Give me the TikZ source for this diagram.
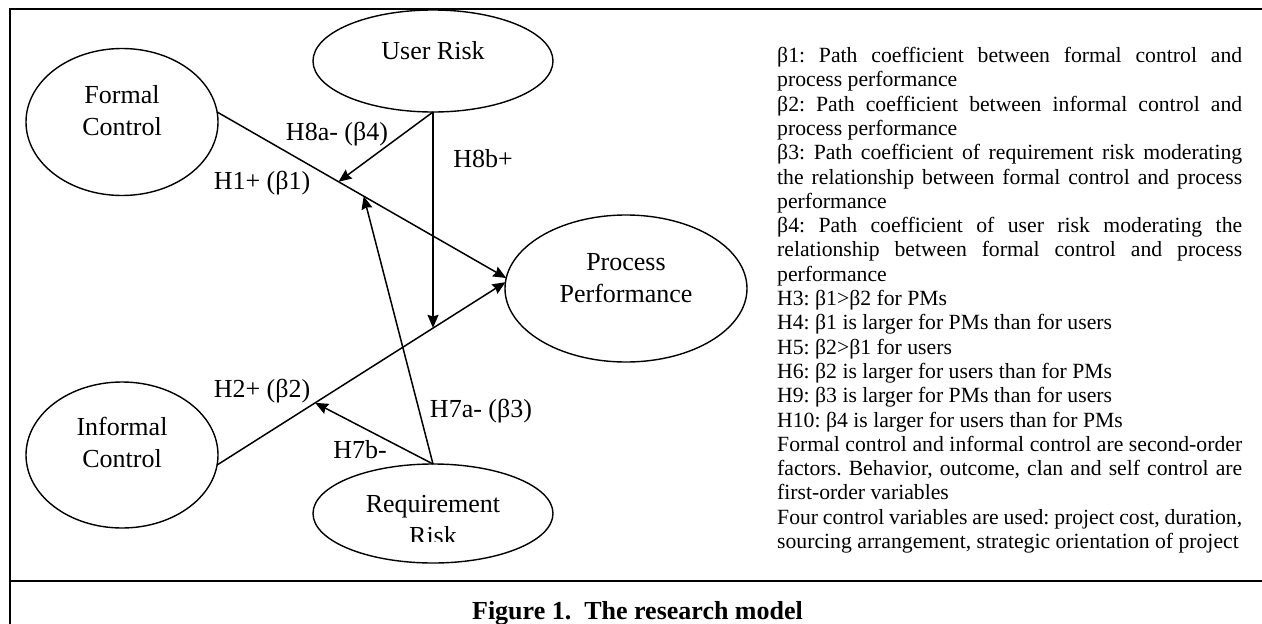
\documentclass[tikz,border=0pt]{standalone}
\usepackage{fontspec}
\setmainfont{Liberation Serif}
\usetikzlibrary{arrows.meta,shapes.geometric}
\newcommand{\Jline}[1]{\makebox[465pt][s]{#1}}
\frenchspacing
\begin{document}
\begin{tikzpicture}[x=1pt,y=-1pt,
  oval/.style={draw, ellipse, line width=1.4pt, inner sep=0pt, outer sep=0pt},
  lbl/.style={font=\fontsize{26}{31}\selectfont, inner sep=0pt, anchor=base},
  conn/.style={line width=1.5pt, -{Stealth[length=13pt,width=11pt,inset=1.5pt]}},
  body/.style={font=\fontsize{21.7}{24.3}\selectfont\frenchspacing, inner sep=0pt, anchor=base west},
  frameline/.style={line width=2.2pt}]
\clip (0,0) rectangle (1262,624);
\fill[white] (0,0) rectangle (1262,624);
% frame
\draw[frameline] (10,640) -- (10,9) -- (1280,9);
\draw[frameline] (10,581) -- (1280,581);
% ellipses
\node[oval, minimum width=192, minimum height=147] (FC) at (122,122) {};
\node[oval, minimum width=240, minimum height=102] (UR) at (433,61) {};
\node[oval, minimum width=242, minimum height=147] (PP) at (626,288.5) {};
\node[oval, minimum width=192, minimum height=146] (IC) at (122,455) {};
\node[oval, minimum width=240, minimum height=99] (RR) at (433,513.5) {};
% ellipse texts
\node[lbl] (fcA) at (122,103) {Formal};
\node[lbl] (fcB) at (122,135) {Control};
\node[lbl] (urA) at (433,59) {User Risk};
\node[lbl] (ppA) at (626,270) {Process};
\node[lbl] (ppB) at (626,302) {Performance};
\node[lbl] (icA) at (122,435) {Informal};
\node[lbl] (icB) at (122,467) {Control};
\node[lbl] (rrA) at (433,512) {Requirement};
\begin{scope}
\clip (300,520) rectangle (570,541);
\node[lbl] (rrB) at (433,544) {Risk};
\end{scope}
% main paths
\draw[conn] (FC.6) -- coordinate[pos=0.42] (m1) coordinate[pos=0.507] (m2) (PP.175);
\draw[conn] (IC.-6) -- coordinate[pos=0.34] (m4) coordinate[pos=0.75] (m3) (PP.177);
% moderators
\draw[conn] (UR.south) -- (m1);
\draw[conn] (UR.south) -- (UR.south |- m3);
\draw[conn] (RR.north) -- (m2);
\draw[conn] (RR.north) -- (m4);
% path labels
\node[lbl] (h8a) at (337,140) {H8a- (β4)};
\node[lbl] (h1) at (262,189) {H1+ (β1)};
\node[lbl] (h8b) at (483,167) {H8b+};
\node[lbl] (h2) at (262,397) {H2+ (β2)};
\node[lbl] (h7b) at (360,458) {H7b-};
\node[lbl] (h7a) at (481,417) {H7a- (β3)};
% legend text
\foreach \btxt [count=\i] in {
 {\Jline{β1: Path coefficient between formal control and}},
 {process performance},
 {\Jline{β2: Path coefficient between informal control and}},
 {process performance},
 {\Jline{β3: Path coefficient of requirement risk moderating}},
 {\Jline{the relationship between formal control and process}},
 {performance},
 {\Jline{β4: Path coefficient of user risk moderating the}},
 {\Jline{relationship between formal control and process}},
 {performance},
 {H3: β1>β2 for PMs},
 {H4: β1 is larger for PMs than for users},
 {H5: β2>β1 for users},
 {H6: β2 is larger for users than for PMs},
 {H9: β3 is larger for PMs than for users},
 {H10: β4 is larger for users than for PMs},
 {\Jline{Formal control and informal control are second-order}},
 {\Jline{factors. Behavior, outcome, clan and self control are}},
 {first-order variables},
 {\Jline{Four control variables are used: project cost, duration,}},
 {sourcing arrangement, strategic orientation of project}
}{\node[body] (b\i) at (777,{62.5+24.3*(\i-1)}) {\btxt};}
% caption
\node[font=\bfseries\fontsize{26}{31}\selectfont, anchor=base, inner sep=0pt] (cap) at (637.5,619) {Figure 1.\ \ The research model};
\end{tikzpicture}
\end{document}
